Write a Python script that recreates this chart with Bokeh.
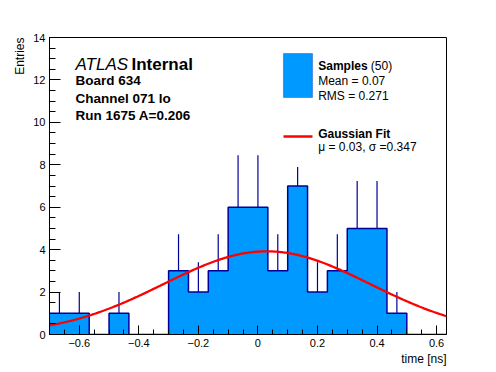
import numpy as np
from bokeh.plotting import figure
from bokeh.models import Label, BoxAnnotation, SingleIntervalTicker, CustomJSTickFormatter, Range1d, Title
from bokeh.embed import file_html
from bokeh.resources import INLINE

# ---------------- data ----------------
x_min, x_max, n_bins = -0.7, 0.6333, 20
counts = [1, 1, 0, 1, 0, 0, 3, 2, 3, 6, 6, 3, 7, 2, 3, 5, 5, 1, 0, 0]
errors = [1.0, 1.0, 0, 1.0, 0, 0, 1.73, 1.41, 1.73, 2.45, 2.45, 1.73, 0.9, 1.41, 1.73, 2.24, 2.24, 1.0, 0, 0]
fit_amp, fit_mu, fit_sigma = 3.92, 0.03, 0.347
n_samples, sample_mean, sample_rms = 50, 0.07, 0.271
y_max = 14
header_lines = ["Board 634", "Channel 071 lo", "Run 1675 A=0.206"]

# ---------------- layout ----------------
W, H = 496, 372
BL, BR, BT, BB = 49, 50, 37, 38
FONT = "Liberation Sans"
FILL = "#0099ff"
EDGE = "#000099"
TXT = "black"

p = figure(width=W, height=H, x_range=Range1d(x_min, x_max), y_range=Range1d(0, y_max),
           output_backend="svg", toolbar_location=None,
           min_border_left=BL, min_border_right=BR, min_border_top=BT, min_border_bottom=BB)
p.background_fill_color = "white"
p.border_fill_color = "white"
p.outline_line_color = "black"
p.outline_line_width = 1
p.xgrid.visible = False
p.ygrid.visible = False

fx0, fx1, fy0, fy1 = BL, W - BR, BT, H - BB


def dx(px):  # page pixel -> data x
    return x_min + (px - fx0) / (fx1 - fx0) * (x_max - x_min)


def dy(py):  # page pixel -> data y
    return (fy1 - py) / (fy1 - fy0) * y_max


# ---------------- histogram ----------------
bw = (x_max - x_min) / n_bins
edges = [x_min + i * bw for i in range(n_bins + 1)]
step_y = counts + [counts[-1]]
p.varea_step(x=edges, y1=[0] * len(edges), y2=step_y, step_mode="after", fill_color=FILL)
p.step(x=edges, y=step_y, mode="after", line_color=EDGE, line_width=1.5)

centers = [(edges[i] + edges[i + 1]) / 2 for i in range(n_bins)]
ex = [centers[i] for i in range(n_bins) if counts[i] > 0]
ey0 = [counts[i] for i in range(n_bins) if counts[i] > 0]
ey1 = [counts[i] + errors[i] for i in range(n_bins) if counts[i] > 0]
p.segment(x0=ex, y0=ey0, x1=ex, y1=ey1, line_color=EDGE, line_width=1.2)

# ---------------- gaussian fit ----------------
xs = np.linspace(x_min, x_max, 300)
ys = fit_amp * np.exp(-0.5 * ((xs - fit_mu) / fit_sigma) ** 2)
p.line(xs, ys, line_color="#ff0000", line_width=2.3)

# ---------------- axes ----------------
xax = p.xaxis[0]
xax.ticker = SingleIntervalTicker(interval=0.2, num_minor_ticks=4)
xax.formatter = CustomJSTickFormatter(code="""
    const v = Math.round(tick * 10) / 10;
    if (Math.abs(v) < 1e-9) return "0";
    return v.toFixed(1).replace('-', '\u2212');
""")
yax = p.yaxis[0]
yax.ticker = SingleIntervalTicker(interval=2, num_minor_ticks=4)
for ax, maj, mnr in ((xax, 9, 5), (yax, 11, 6)):
    ax.major_tick_in = maj
    ax.major_tick_out = 0
    ax.minor_tick_in = mnr
    ax.minor_tick_out = 0
    ax.axis_line_color = "black"
    ax.major_tick_line_color = "black"
    ax.minor_tick_line_color = "black"
    ax.major_label_text_font = FONT
    ax.major_label_text_font_size = "11px"
    ax.major_label_text_color = TXT
    ax.major_label_standoff = 4

# axis titles
p.add_layout(Title(text="time [ns]", align="right", text_font=FONT, text_font_size="12px",
                   text_font_style="normal", text_color=TXT, standoff=0, offset=0), "below")
p.add_layout(Title(text="Entries", align="right", text_font=FONT, text_font_size="12px",
                   text_font_style="normal", text_color=TXT, standoff=8, offset=0), "left")

# ---------------- header text ----------------
p.add_layout(Label(x=dx(75), y=dy(64), text="ATLAS", text_font=FONT, text_font_style="italic",
                   text_font_size="17px", text_color=TXT, text_baseline="alphabetic"))
p.add_layout(Label(x=dx(131), y=dy(64), text="Internal", text_font=FONT, text_font_style="bold",
                   text_font_size="17px", text_color=TXT, text_baseline="alphabetic"))
for t, py in zip(header_lines, [80, 97.5, 115]):
    p.add_layout(Label(x=dx(75), y=dy(py), text=t, text_font=FONT, text_font_style="bold",
                       text_font_size="13.5px", text_color=TXT, text_baseline="alphabetic"))

# ---------------- legend ----------------
p.add_layout(BoxAnnotation(left=dx(283), right=dx(312), top=dy(53), bottom=dy(97),
                           fill_color=FILL, fill_alpha=1, line_color=EDGE, line_width=1.2))
p.segment(x0=[dx(283)], y0=[dy(136)], x1=[dx(312)], y1=[dy(136)], line_color="#ff0000", line_width=2.3)

lx = dx(317.7)
p.add_layout(Label(x=lx, y=dy(65.5), text="Samples", text_font=FONT, text_font_style="bold",
                   text_font_size="12px", text_color=TXT, text_baseline="alphabetic"))
p.add_layout(Label(x=dx(370.3), y=dy(65.5), text="(%d)" % n_samples, text_font=FONT,
                   text_font_size="12px", text_color=TXT, text_baseline="alphabetic"))
p.add_layout(Label(x=lx, y=dy(80.5), text="Mean = %.2f" % sample_mean, text_font=FONT,
                   text_font_size="12px", text_color=TXT, text_baseline="alphabetic"))
p.add_layout(Label(x=lx, y=dy(95), text="RMS = %.3f" % sample_rms, text_font=FONT,
                   text_font_size="12px", text_color=TXT, text_baseline="alphabetic"))
p.add_layout(Label(x=lx, y=dy(133.3), text="Gaussian Fit", text_font=FONT, text_font_style="bold",
                   text_font_size="12px", text_color=TXT, text_baseline="alphabetic"))
p.add_layout(Label(x=lx, y=dy(146.3), text="\u03bc = %.2f, \u03c3 =%.3f" % (fit_mu, fit_sigma),
                   text_font=FONT, text_font_size="12px", text_color=TXT, text_baseline="alphabetic"))

open("out.html", "w").write(file_html(p, INLINE))
